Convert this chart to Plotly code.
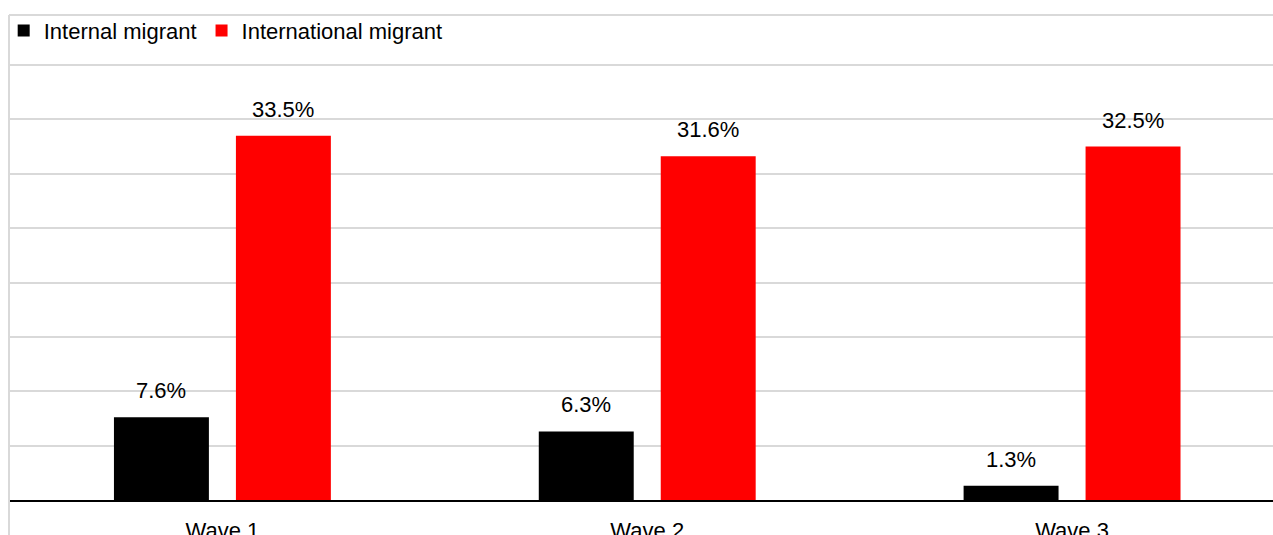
import plotly.graph_objects as go

waves = ["Wave 1", "Wave 2", "Wave 3"]
internal = [7.6, 6.3, 1.3]
international = [33.5, 31.6, 32.5]

series_names = ["Internal migrant", "International migrant"]
series_colors = ["#000000", "#ff0000"]

FONT = "Liberation Sans"
pos = list(range(len(waves)))
bar_w = 0.2235
half_gap = 0.0318

fig = go.Figure()
for vals, name, color, off in [
    (internal, series_names[0], series_colors[0], -half_gap - bar_w),
    (international, series_names[1], series_colors[1], half_gap),
]:
    fig.add_trace(go.Bar(
        x=pos, y=vals, name=name, marker=dict(color=color, line=dict(width=0)),
        width=bar_w, offset=off,
    ))
    for xi, v in zip(pos, vals):
        fig.add_annotation(
            x=xi + off + bar_w / 2, y=v, text=f"{v}%", showarrow=False,
            yanchor="bottom", yshift=12, font=dict(family=FONT, size=22, color="#000"),
        )

# outer chart frame (left and top edges), paper units relative to a 440 px plot
top_y = (440 - 15 + 60 - 60) / 440  # frame line 15 px from the top of the page
top_y = (500 - 15) / 440
bottom_y = (500 - 540) / 440
frame = dict(color="#d9d9d9", width=2)
fig.add_shape(type="line", xref="paper", yref="paper", x0=-0.0008, x1=-0.0008,
              y0=top_y, y1=bottom_y, line=frame)
fig.add_shape(type="line", xref="paper", yref="paper", x0=-0.0008, x1=1.01,
              y0=top_y, y1=top_y, line=frame)

fig.update_layout(
    width=1273, height=535,
    margin=dict(l=10, r=0, t=60, b=35, autoexpand=False),
    paper_bgcolor="white", plot_bgcolor="white",
    barmode="overlay",
    font=dict(family=FONT, size=22, color="#000"),
    legend=dict(orientation="h", x=-0.005, y=top_y + 0.012, xanchor="left", yanchor="top",
                font=dict(family=FONT, size=22, color="#000"),
                bgcolor="rgba(0,0,0,0)", itemwidth=30, traceorder="normal"),
    xaxis=dict(range=[-0.5, 2.473], tickvals=pos, ticktext=waves,
               showgrid=False, showline=True, linecolor="#000", linewidth=2,
               ticks="", ticklabelstandoff=10, automargin=False,
               tickfont=dict(family=FONT, size=22, color="#000"),
               fixedrange=True),
    yaxis=dict(range=[0, 40.46], tickvals=[5, 10, 15, 20, 25, 30, 35, 40],
               showticklabels=False, showgrid=True, automargin=False,
               gridcolor="#d9d9d9", gridwidth=2, zeroline=False, showline=False,
               ticks="", fixedrange=True),
)

fig.write_html("out.html")
